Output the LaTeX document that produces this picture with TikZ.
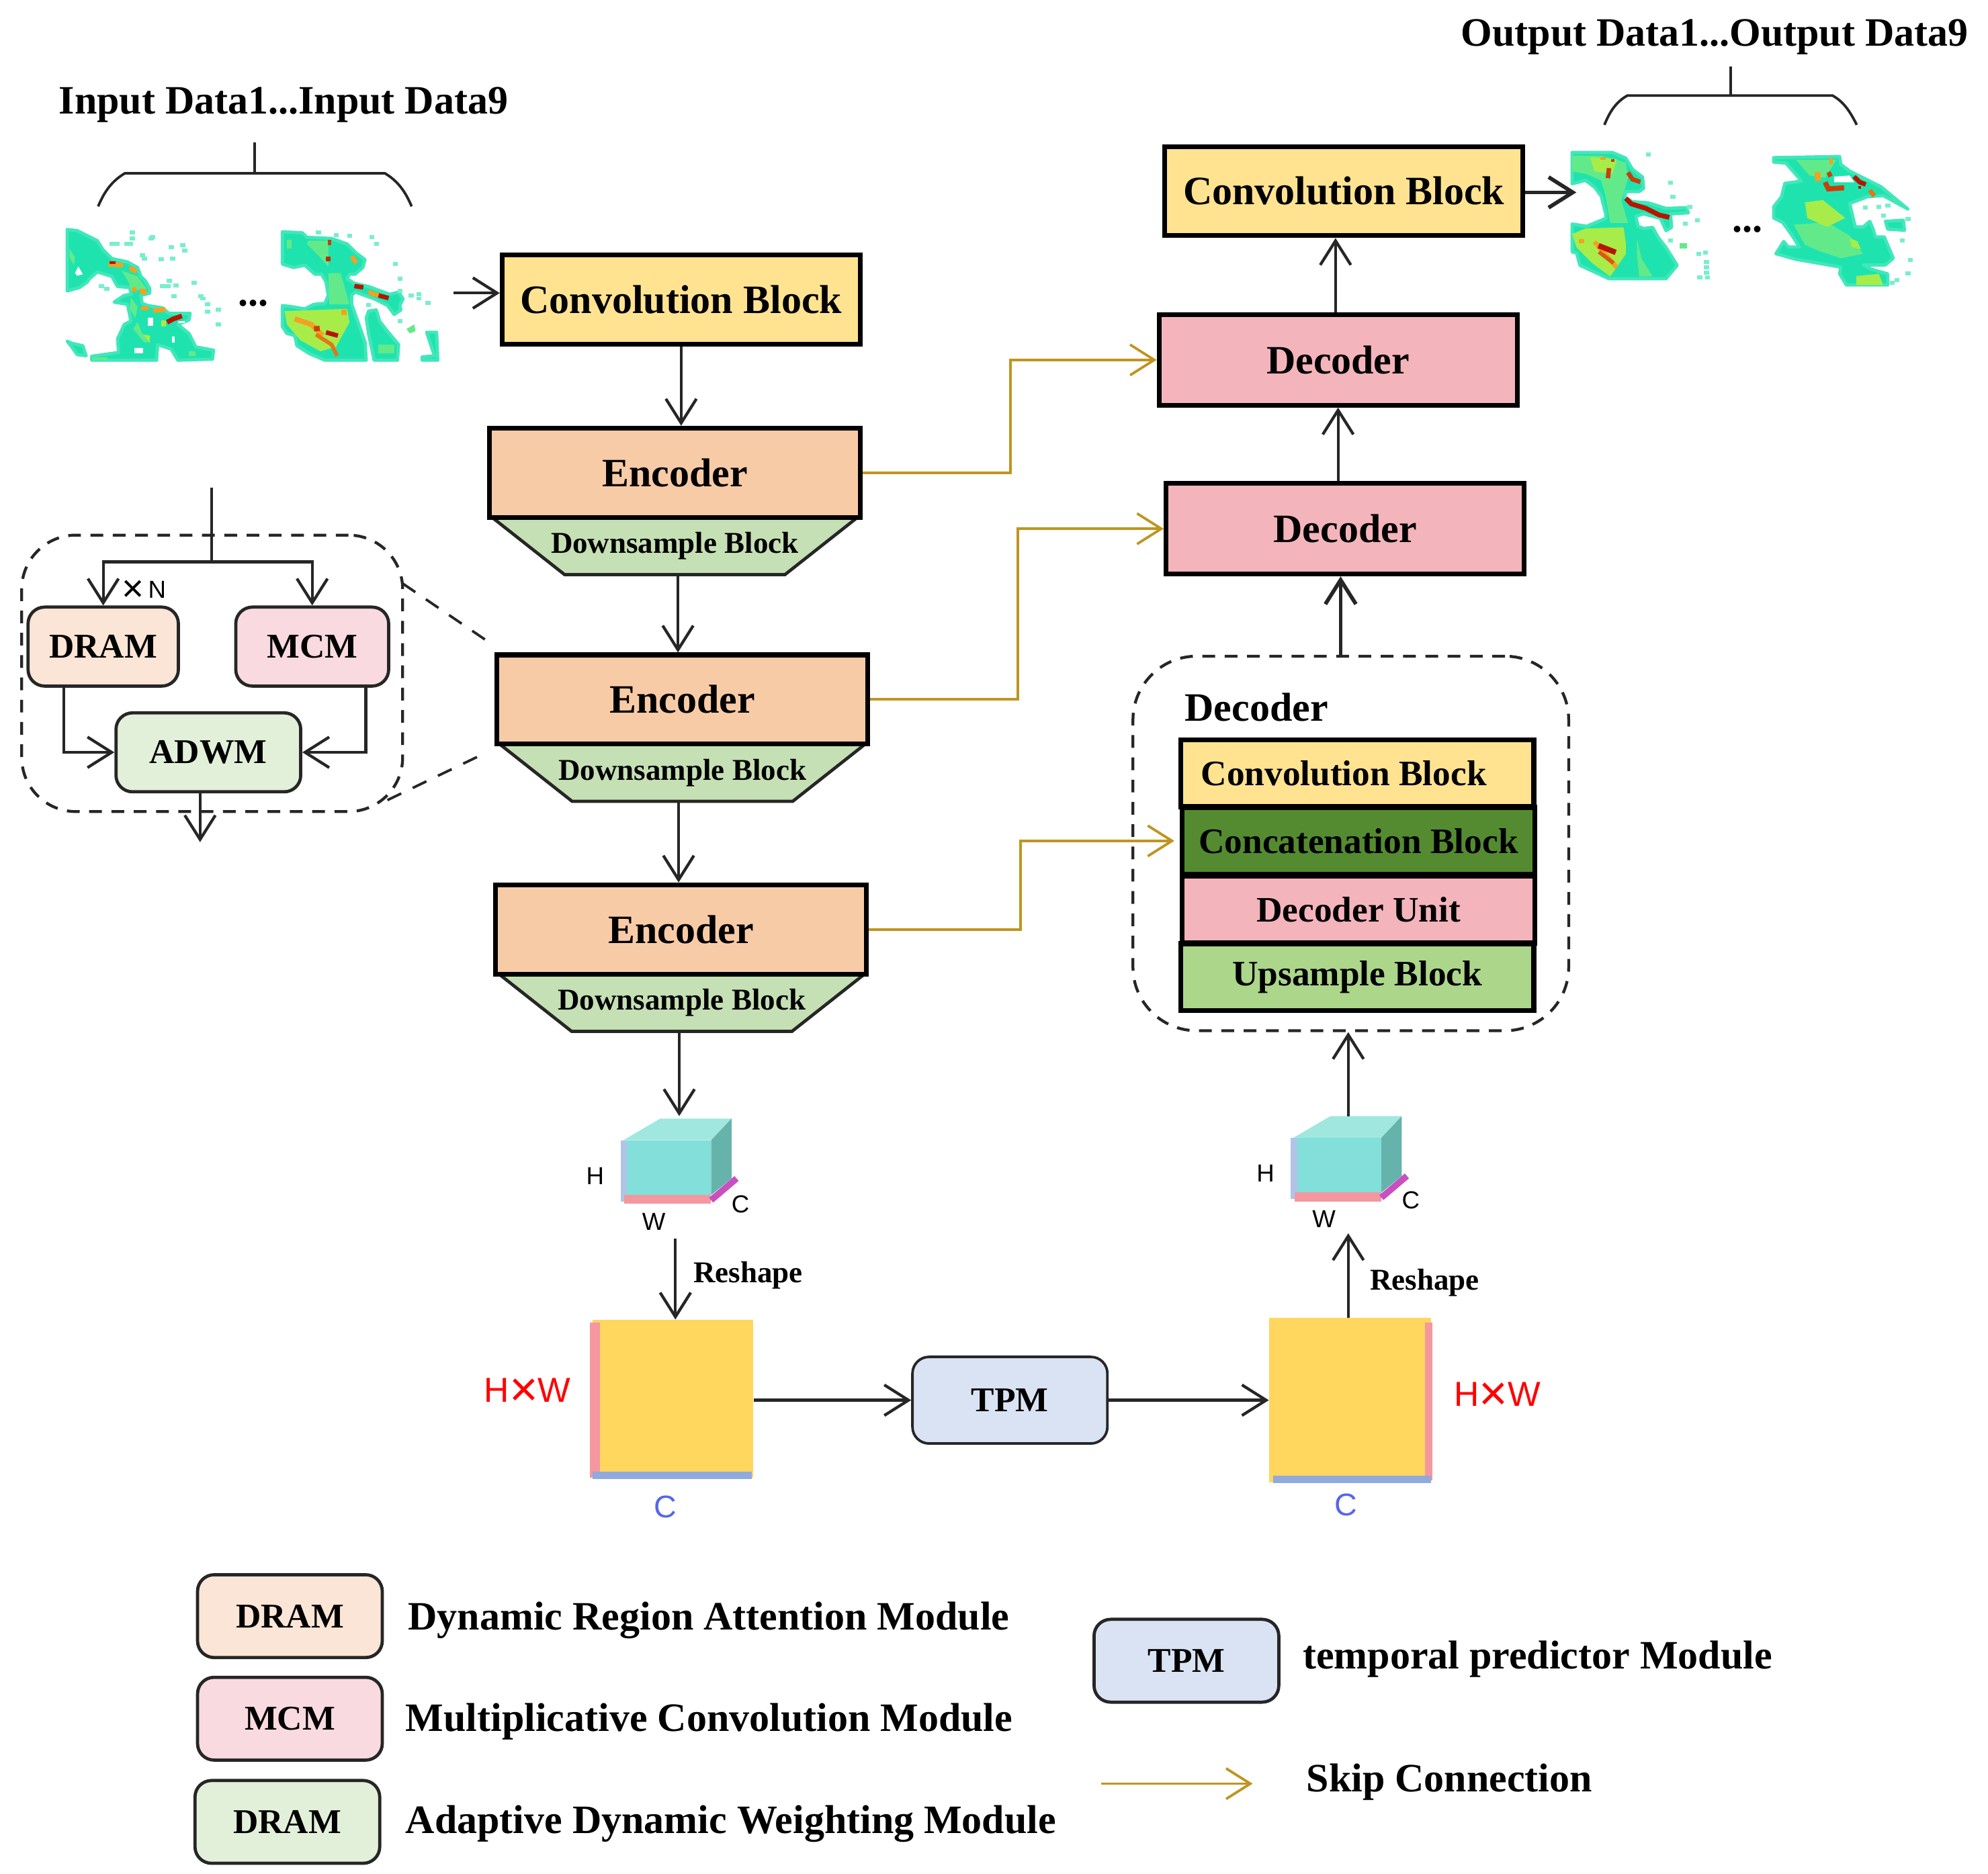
\documentclass[tikz,border=0pt]{standalone}
\usepackage{fontspec}
\setmainfont{Liberation Serif}
\newfontfamily\labelfont{Liberation Sans}
\usetikzlibrary{arrows.meta}
\definecolor{convfill}{HTML}{FFE391}
\definecolor{encfill}{HTML}{F8CBA7}
\definecolor{downfill}{HTML}{C5E0B4}
\definecolor{decfill}{HTML}{F4B4BC}
\definecolor{concatfill}{HTML}{548B30}
\definecolor{upfill}{HTML}{ACD68A}
\definecolor{dramfill}{HTML}{FBE5D6}
\definecolor{mcmfill}{HTML}{F9DAE0}
\definecolor{adwmfill}{HTML}{E2F0D9}
\definecolor{tpmfill}{HTML}{DAE3F3}
\definecolor{skipline}{HTML}{BF9520}
\definecolor{edgeline}{HTML}{262626}
\definecolor{latentfill}{HTML}{FFD65E}
\definecolor{stripred}{HTML}{F4979F}
\definecolor{stripblue}{HTML}{8FAADC}
\definecolor{cubefront}{HTML}{82DFD9}
\definecolor{cubetop}{HTML}{A0E8DF}
\definecolor{cubeside}{HTML}{66B3AB}
\definecolor{cubeedge}{HTML}{C850C0}
\definecolor{heatbase}{HTML}{1FE3AE}
\definecolor{heatsoft}{HTML}{62EA8A}
\definecolor{heatmid}{HTML}{A8EC4A}
\definecolor{heatwarm}{HTML}{F5A020}
\definecolor{heathot}{HTML}{B81400}
\tikzstyle{ConvBlock}=[minimum width=5.62cm, minimum height=1.4cm, inner sep=0, fill=convfill, line width=0.075cm, draw=black, shape=rectangle, font=\bfseries\fontsize{18}{20}\selectfont]
\tikzstyle{EncoderBlock}=[minimum width=5.82cm, minimum height=1.4cm, inner sep=0, fill=encfill, line width=0.075cm, draw=black, shape=rectangle, font=\bfseries\fontsize{18}{20}\selectfont]
\tikzstyle{DecoderBlock}=[minimum width=5.62cm, minimum height=1.42cm, inner sep=0, fill=decfill, line width=0.075cm, draw=black, shape=rectangle, font=\bfseries\fontsize{18}{20}\selectfont]
\tikzstyle{DownBlock}=[minimum width=5.84cm, minimum height=1cm, inner sep=0, shape=rectangle, font=\bfseries\fontsize{13.5}{15}\selectfont, path picture={\draw [fill=downfill, line width=0.05cm, draw=edgeline] ([xshift=0.05cm, yshift=-0.05cm]path picture bounding box.north west) -- ([xshift=-0.05cm, yshift=-0.05cm]path picture bounding box.north east) -- ([xshift=-1.19cm, yshift=0.05cm]path picture bounding box.south east) -- ([xshift=1.19cm, yshift=0.05cm]path picture bounding box.south west) -- cycle;}]
\tikzstyle{StackBlock}=[minimum width=5.54cm, minimum height=1.05cm, inner sep=0, line width=0.08cm, draw=black, shape=rectangle, font=\bfseries\fontsize{16}{18}\selectfont]
\tikzstyle{Module}=[minimum height=1.24cm, inner sep=0, rounded corners=0.26cm, line width=0.05cm, draw=edgeline, shape=rectangle, font=\bfseries\fontsize{15.5}{17}\selectfont]
\tikzstyle{LegendBox}=[style=Module, minimum width=2.9cm, minimum height=1.3cm]
\tikzstyle{DashedBox}=[line width=0.045cm, draw=edgeline, dash pattern=on 0.2cm off 0.15cm, shape=rectangle, inner sep=0]
\tikzstyle{Latent}=[minimum width=2.52cm, inner sep=0, fill=latentfill, shape=rectangle]
\tikzstyle{Title}=[font=\bfseries\fontsize{18}{20}\selectfont, inner sep=0]
\tikzstyle{SmallTitle}=[font=\bfseries\fontsize{13.5}{15}\selectfont, inner sep=0]
\tikzstyle{CubeLabel}=[font=\labelfont\fontsize{11}{13}\selectfont, inner sep=0]
\tikzstyle{SizeLabel}=[font=\labelfont\fontsize{15.5}{17}\selectfont, inner sep=0]
\tikzstyle{HeatMap}=[x=0.003514cm, y=-0.003514cm]
\tikzstyle{HeatBlob}=[fill=heatbase, draw=heatbase!85!white, line width=0.05cm, line join=round]
\tikzstyle{HeatSpeck}=[fill=heatbase!60!white]
\tikzstyle{arrow}=[->, line width=0.045cm, draw=edgeline]
\tikzstyle{skiparrow}=[->, line width=0.04cm, draw=skipline]
\tikzstyle{plain}=[line width=0.045cm, draw=edgeline]
\tikzstyle{zoomline}=[line width=0.04cm, draw=edgeline, dash pattern=on 0.24cm off 0.2cm]
\tikzstyle{brace}=[line width=0.04cm, draw=edgeline]
\pgfdeclarelayer{nodelayer}
\pgfdeclarelayer{edgelayer}
\pgfsetlayers{nodelayer, main, edgelayer}
\begin{document}
\begin{tikzpicture}[x=0.02cm, y=-0.02cm, >={Straight Barb[length=0.38cm, width=0.48cm]}]
	\useasboundingbox (0, 0) rectangle (1560, 1470.4);
	\begin{pgfonlayer}{nodelayer}
		% heat maps, traced
		\begin{scope}[shift={(50.08, 179.25)}, style=HeatMap]
			\path [style=HeatBlob] (15,5) -- (60,10) -- (100,30) -- (150,55) -- (175,95) -- (215,135) -- (285,150) -- (330,175) -- (345,215) -- (365,235) -- (385,270) -- (385,290) -- (345,300) -- (350,335) -- (375,345) -- (440,355) -- (470,380) -- (565,380) -- (560,410) -- (510,430) -- (560,470) -- (590,530) -- (670,545) -- (665,585) -- (510,590) -- (480,540) -- (420,520) -- (415,590) -- (125,590) -- (125,572) -- (245,555) -- (240,495) -- (270,430) -- (300,415) -- (285,340) -- (225,330) -- (270,300) -- (300,295) -- (295,265) -- (240,260) -- (215,215) -- (150,195) -- (115,225) -- (105,240) -- (70,265) -- (15,280) -- cycle;
			\path [style=HeatBlob] (15,505) -- (40,515) -- (85,525) -- (100,570) -- (60,565) -- (35,530) -- cycle;
			\fill [white] (50,200) -- (65,170) -- (85,205) -- (60,212) -- cycle;
			\fill [white] (375,400) rectangle (400,435);
			\fill [white] (315,535) rectangle (355,560);
			\fill [white] (510,415) rectangle (540,425);
			\fill [white] (485,485) rectangle (497,510);
			\foreach \p/\q in {205/60, 225/60, 270/60, 285/60, 295/10, 295/35, 155/250, 180/260, 430/250, 455/250, 470/75, 380/35, 385/30, 475/125, 480/295, 570/235, 600/295, 610/305, 630/365, 520/65, 530/90, 340/110, 350/125, 425/130, 460/225, 490/245, 630/330, 680/355, 680/420}
				\fill [style=HeatSpeck] (\p, \q) rectangle ++(24, 18);
			\fill [heatsoft] (25,90) -- (50,130) -- (45,165) -- (25,130) -- cycle;
			\fill [heatsoft] (260,190) -- (330,215) -- (370,270) -- (300,280) -- (290,240) -- cycle;
			\fill [heatsoft] (300,310) -- (330,350) -- (320,400) -- (295,360) -- cycle;
			\fill [heatsoft] (330,420) -- (350,470) -- (390,510) -- (360,510) -- (310,450) -- cycle;
			\fill [heatmid] (355,475) -- (385,480) -- (385,510) -- cycle;
			\fill [heatsoft] (560,550) rectangle (590,570);
			\fill [heatsoft] (130,578) rectangle (195,590);
			\draw [heatwarm, line width=0.075cm] (200,160) -- (265,165);
			\draw [heathot, line width=0.045cm] (205,153) -- (230,153);
			\draw [heatwarm, line width=0.07cm] (295,175) -- (325,195);
			\draw [heatwarm, line width=0.07cm] (305,272) -- (325,275);
			\draw [heatwarm, line width=0.08cm] (340,280) -- (370,285);
			\draw [heatwarm, line width=0.07cm] (345,358) -- (378,358);
			\draw [heatwarm, line width=0.07cm] (400,368) -- (455,362);
			\fill [heatmid] (435,412) rectangle (458,438);
			\draw [heathot, line width=0.075cm] (462,420) -- (490,405) -- (528,392);
		\end{scope}
		\begin{scope}[shift={(219.85, 179.25)}, style=HeatMap]
			\path [style=HeatBlob] (10,15) -- (100,20) -- (120,40) -- (230,45) -- (300,70) -- (340,110) -- (380,140) -- (370,175) -- (335,205) -- (310,205) -- (300,225) -- (330,245) -- (395,260) -- (490,295) -- (530,285) -- (550,315) -- (535,345) -- (540,365) -- (510,385) -- (480,345) -- (420,315) -- (335,285) -- (320,300) -- (320,340) -- (345,410) -- (380,510) -- (385,590) -- (200,590) -- (130,560) -- (75,525) -- (65,480) -- (30,470) -- (10,440) -- (10,345) -- (50,350) -- (110,360) -- (150,340) -- (200,335) -- (215,300) -- (205,240) -- (185,205) -- (155,205) -- (110,165) -- (60,175) -- (10,160) -- cycle;
			\path [style=HeatBlob] (395,370) -- (430,365) -- (445,415) -- (480,460) -- (530,520) -- (525,590) -- (420,590) -- (395,470) -- (385,400) -- cycle;
			\path [style=HeatBlob] (655,465) -- (700,465) -- (705,590) -- (635,590) -- (635,575) -- (690,570) -- cycle;
			\fill [heatsoft] (565,450) -- (600,430) -- (605,460) -- (580,470) -- cycle;
			\foreach \p/\q in {505/150, 525/215, 525/270, 575/290, 610/285, 650/325, 525/405, 400/30, 160/8, 300/25, 420/60, 385/335, 240/20, 610/305}
				\fill [style=HeatSpeck] (\p, \q) rectangle ++(22, 18);
			\fill [heatsoft] (125,55) -- (215,55) -- (215,170) -- (170,120) -- (120,70) -- cycle;
			\fill [heatsoft] (215,200) -- (270,200) -- (310,340) -- (220,340) -- cycle;
			\fill [heatmid] (20,370) -- (300,360) -- (310,420) -- (250,530) -- (180,550) -- (90,500) -- (30,430) -- cycle;
			\fill [heatsoft] (30,50) rectangle (50,90);
			\fill [heatsoft] (440,520) rectangle (510,560);
			\draw [heatwarm, line width=0.08cm] (65,405) -- (140,430) -- (190,480);
			\fill [heatwarm] (272,365) rectangle (298,388);
			\fill [heathot!85!heatwarm] (203,125) rectangle (225,147);
			\fill [heathot!70!heatwarm] (213,52) rectangle (228,75);
			\draw [heatwarm, line width=0.07cm] (320,125) -- (340,155);
			\draw [heathot, line width=0.07cm] (332,258) -- (372,264);
			\draw [heatwarm, line width=0.07cm] (395,285) -- (440,300);
			\draw [heathot, line width=0.07cm] (440,300) -- (485,312);
			\draw [heathot!70!heatwarm, line width=0.09cm] (163,437) -- (165,460);
			\draw [heathot, line width=0.07cm] (205,465) -- (258,480);
			\draw [heatwarm!70!heathot, line width=0.06cm] (160,475) -- (230,520) -- (255,570);
		\end{scope}
		\begin{scope}[shift={(1233.65, 117.04)}, style=HeatMap]
			\path [style=HeatBlob] (0,15) -- (180,15) -- (240,40) -- (270,90) -- (315,125) -- (320,175) -- (300,190) -- (240,190) -- (235,215) -- (270,235) -- (340,240) -- (420,265) -- (510,262) -- (520,285) -- (440,290) -- (445,350) -- (420,365) -- (395,310) -- (320,290) -- (285,300) -- (295,345) -- (320,355) -- (360,350) -- (385,395) -- (420,440) -- (470,520) -- (420,580) -- (165,580) -- (100,550) -- (35,520) -- (20,465) -- (0,460) -- (0,335) -- (65,345) -- (150,310) -- (150,290) -- (130,210) -- (100,170) -- (60,140) -- (0,155) -- cycle;
			\foreach \p/\q in {440/205, 495/325, 555/460, 585/455, 590/495, 590/520, 590/545, 595/565, 560/565, 430/140, 515/250, 550/310, 430/400, 330/15}
				\fill [style=HeatSpeck] (\p, \q) rectangle ++(22, 18);
			\fill [heatsoft] (480,420) rectangle (515,445);
			\fill [heatsoft] (0,30) -- (130,30) -- (240,60) -- (250,130) -- (220,230) -- (250,330) -- (170,330) -- (150,210) -- (130,140) -- (60,110) -- (0,100) -- cycle;
			\fill [heatmid] (0,380) -- (60,355) -- (230,350) -- (240,420) -- (240,470) -- (170,570) -- (90,510) -- (20,440) -- cycle;
			\fill [heatmid] (80,35) -- (200,45) -- (180,110) -- (100,100) -- cycle;
			\fill [heatsoft] (290,400) -- (310,490) -- (360,570) -- (300,570) -- (290,470) -- cycle;
			\fill [heatwarm] (30,403) rectangle (55,420);
			\draw [heatwarm, line width=0.07cm] (100,415) -- (200,530);
			\fill [heatwarm] (125,35) rectangle (150,47);
			\fill [heathot!70!heatwarm] (173,45) rectangle (190,58);
			\draw [heathot!70!heatwarm, line width=0.07cm] (165,85) -- (160,130);
			\draw [heathot!70!heatwarm, line width=0.07cm] (250,105) -- (270,135) -- (305,147);
			\draw [heathot, line width=0.075cm] (240,220) -- (265,245) -- (330,265) -- (390,295) -- (435,305);
			\draw [heathot, line width=0.085cm] (118,432) -- (195,462);
			\draw [heatwarm!50!heathot, line width=0.06cm] (120,460) -- (185,510);
		\end{scope}
		\begin{scope}[shift={(1391.8, 120.2)}, style=HeatMap]
			\path [style=HeatBlob] (0,20) -- (295,15) -- (300,50) -- (340,80) -- (400,110) -- (480,150) -- (600,250) -- (490,190) -- (420,195) -- (340,225) -- (365,330) -- (400,330) -- (430,305) -- (445,340) -- (455,375) -- (495,375) -- (535,470) -- (500,500) -- (400,500) -- (440,520) -- (510,540) -- (510,590) -- (325,590) -- (295,540) -- (300,510) -- (100,475) -- (10,450) -- (45,395) -- (65,420) -- (115,420) -- (80,365) -- (40,310) -- (0,290) -- (0,240) -- (35,195) -- (50,135) -- (125,125) -- (55,45) -- (0,40) -- cycle;
			\fill [white] (270,105) -- (340,100) -- (360,130) -- (270,130) -- cycle;
			\path [style=HeatBlob] (500,305) -- (580,300) -- (585,345) -- (510,340) -- cycle;
			\foreach \p/\q in {565/382, 600/468, 590/530, 520/570, 540/560, 400/235, 460/230, 500/225, 480/270, 590/285}
				\fill [style=HeatSpeck] (\p, \q) rectangle ++(22, 18);
			\fill [heatsoft] (100,30) -- (280,30) -- (230,110) -- (160,100) -- cycle;
			\fill [heatsoft] (90,320) -- (240,310) -- (340,370) -- (400,450) -- (300,470) -- (210,440) -- (140,410) -- cycle;
			\fill [heatmid] (140,220) -- (220,210) -- (320,290) -- (240,330) -- (150,290) -- cycle;
			\fill [heatmid] (340,380) -- (375,395) -- (390,430) -- (350,420) -- cycle;
			\fill [heatmid] (370,550) -- (470,540) -- (490,590) -- (370,590) -- cycle;
			\draw [heatwarm, line width=0.09cm] (195,85) -- (200,125);
			\draw [heatwarm, line width=0.05cm] (255,20) -- (258,50);
			\draw [heathot!70!heatwarm, line width=0.08cm] (230,130) -- (245,160) -- (315,155);
			\draw [heathot!70!heatwarm, line width=0.07cm] (245,85) -- (255,105);
			\draw [heathot, line width=0.07cm] (360,105) -- (385,130) -- (412,140);
			\fill [heathot] (378,148) rectangle (392,160);
			\draw [heatwarm!70!heathot, line width=0.07cm] (430,165) -- (450,192);
		\end{scope}
		% titles and dots
		\node [style=Title] (inputtitle) at (222.5, 82) {Input Data1...Input Data9};
		\node [style=Title] (outputtitle) at (1345.5, 29) {Output Data1...Output Data9};
		\node [style=Title] (inputdots) at (199, 238) {...};
		\node [style=Title] (outputdots) at (1371, 180) {...};
		% encoder side
		\node [style=ConvBlock] (convin) at (534.5, 235) {Convolution Block};
		\node [style=DownBlock] (downa) at (529.5, 428.5) {Downsample Block};
		\node [style=EncoderBlock] (encodera) at (529.5, 371) {Encoder};
		\node [style=DownBlock] (downb) at (535.5, 606.5) {Downsample Block};
		\node [style=EncoderBlock] (encoderb) at (535.5, 549) {Encoder};
		\node [style=DownBlock] (downc) at (535, 787) {Downsample Block};
		\node [style=EncoderBlock] (encoderc) at (534.5, 729.5) {Encoder};
		% decoder side
		\node [style=ConvBlock] (convout) at (1054.5, 150) {Convolution Block};
		\node [style=DecoderBlock] (decodera) at (1050, 282.5) {Decoder};
		\node [style=DecoderBlock] (decoderb) at (1055.5, 415) {Decoder};
		\node [style=DashedBox, rounded corners=1cm, minimum width=6.84cm, minimum height=5.88cm] (decoderframe) at (1060, 662) {};
		\node [style=Title] (decodertitle) at (986, 555) {Decoder};
		\node [style=StackBlock, fill=convfill, label={[font=\bfseries\fontsize{16}{18}\selectfont, xshift=-0.21cm]center:Convolution Block}] (stackconv) at (1065, 607) {};
		\node [style=StackBlock, fill=concatfill] (stackconcat) at (1066, 660) {Concatenation Block};
		\node [style=StackBlock, fill=decfill] (stackunit) at (1066, 714) {Decoder Unit};
		\node [style=StackBlock, fill=upfill] (stackup) at (1065, 767) {Upsample Block};
		% module detail
		\node [style=DashedBox, rounded corners=0.85cm, minimum width=5.98cm, minimum height=4.34cm] (moduleframe) at (166.5, 528.5) {};
		\node [style=Module, fill=dramfill, minimum width=2.36cm] (dram) at (81, 507.5) {DRAM};
		\node [style=Module, fill=mcmfill, minimum width=2.4cm] (mcm) at (245, 507.5) {MCM};
		\node [style=Module, fill=adwmfill, minimum width=2.9cm] (adwm) at (163.5, 590.5) {ADWM};
		\node [font=\labelfont\fontsize{11}{13}\selectfont, inner sep=0] (repeatlabel) at (113, 464) {\raisebox{-1.6pt}{\fontsize{17}{17}\selectfont ×}\,N};
		% cubes
		\begin{scope}[shift={(0, 0)}]
			\fill [cubetop] (489, 895) -- (518, 878) -- (574, 878) -- (558, 895) -- cycle;
			\fill [cubeside] (558, 895) -- (574, 878) -- (574, 925) -- (558, 938) -- cycle;
			\fill [cubefront] (489, 895) rectangle (558, 938);
			\fill [stripblue!70!white] (487, 895) rectangle (492, 943);
			\fill [stripred] (490, 938) rectangle (558, 945);
			\draw [cubeedge, line width=0.1cm] (558, 942) -- (578, 925);
		\end{scope}
		\begin{scope}[shift={(526, -2)}]
			\fill [cubetop] (489, 895) -- (518, 878) -- (574, 878) -- (558, 895) -- cycle;
			\fill [cubeside] (558, 895) -- (574, 878) -- (574, 925) -- (558, 938) -- cycle;
			\fill [cubefront] (489, 895) rectangle (558, 938);
			\fill [stripblue!70!white] (487, 895) rectangle (492, 943);
			\fill [stripred] (490, 938) rectangle (558, 945);
			\draw [cubeedge, line width=0.1cm] (558, 942) -- (578, 925);
		\end{scope}
		\node [style=CubeLabel] (cubeah) at (467, 923) {H};
		\node [style=CubeLabel] (cubeaw) at (513, 959) {W};
		\node [style=CubeLabel] (cubeac) at (581, 945) {C};
		\node [style=CubeLabel] (cubebh) at (993, 921) {H};
		\node [style=CubeLabel] (cubebw) at (1039, 957) {W};
		\node [style=CubeLabel] (cubebc) at (1107, 942) {C};
		% latent blocks
		\node [style=Latent, minimum height=2.48cm] (latenta) at (528, 1098) {};
		\fill [stripred] (463, 1038) rectangle (471, 1160);
		\fill [stripblue] (465, 1155) rectangle (590, 1161);
		\node [style=Latent, minimum width=2.54cm, minimum height=2.58cm] (latentb) at (1059.5, 1099) {};
		\fill [stripred] (1118, 1038) rectangle (1124, 1162);
		\fill [stripblue] (999, 1158) rectangle (1123, 1164);
		\node [style=SizeLabel, text=red] (sizea) at (414, 1093) {H\raisebox{-1.8pt}{\fontsize{22}{22}\selectfont ×}W};
		\node [style=SizeLabel, text=red] (sizeb) at (1175, 1096) {H\raisebox{-1.8pt}{\fontsize{22}{22}\selectfont ×}W};
		\node [style=SizeLabel, text=stripblue!60!blue, font=\labelfont\fontsize{14}{16}\selectfont] (channela) at (522, 1183) {C};
		\node [style=SizeLabel, text=stripblue!60!blue, font=\labelfont\fontsize{14}{16}\selectfont] (channelb) at (1056, 1181) {C};
		\node [style=Module, fill=tpmfill, minimum width=3.06cm, minimum height=1.36cm, line width=0.04cm] (tpm) at (792.5, 1099) {TPM};
		\node [style=SmallTitle] (reshapea) at (587, 1001) {Reshape};
		\node [style=SmallTitle] (reshapeb) at (1118, 1007) {Reshape};
		% legend
		\node [style=LegendBox, fill=dramfill] (legenddram) at (227.5, 1268.5) {DRAM};
		\node [style=LegendBox, fill=mcmfill] (legendmcm) at (227.5, 1349) {MCM};
		\node [style=LegendBox, fill=adwmfill] (legendadwm) at (225.5, 1430) {DRAM};
		\node [style=LegendBox, fill=tpmfill] (legendtpm) at (931, 1303.5) {TPM};
		\node [style=Title, anchor=west] (textdram) at (320, 1272) {Dynamic Region Attention Module};
		\node [style=Title, anchor=west] (textmcm) at (318, 1351) {Multiplicative Convolution Module};
		\node [style=Title, anchor=west] (textadwm) at (318, 1431.5) {Adaptive Dynamic Weighting Module};
		\node [style=Title, anchor=west] (texttpm) at (1022, 1302) {temporal predictor Module};
		\node [style=Title, anchor=west] (textskip) at (1025, 1398.5) {Skip Connection};
		% free ends of connectors
		\coordinate (inputout) at (356, 230);
		\coordinate (moduletop) at (166, 383);
		\coordinate (modulesplit) at (166, 441);
		\coordinate (dramout) at (50, 538);
		\coordinate (mcmout) at (287, 538);
		\coordinate (adwmout) at (157, 621);
		\coordinate (moduleend) at (157, 661);
		\coordinate (zoomtop) at (316, 458);
		\coordinate (zoomtopend) at (388, 507);
		\coordinate (zoombottom) at (304, 628);
		\coordinate (zoombottomend) at (383, 590);
		\coordinate (cubeain) at (533, 876);
		\coordinate (cubeaout) at (530, 972);
		\coordinate (cubebin) at (1058, 968);
		\coordinate (cubebout) at (1058, 876);
		\coordinate (outputin) at (1237, 151);
		\coordinate (skipstart) at (864, 1400);
		\coordinate (skipend) at (983, 1400);
		\coordinate (inputstem) at (200, 112);
		\coordinate (inputjoin) at (200, 136);
		\coordinate (outputstem) at (1358, 52);
		\coordinate (outputjoin) at (1358, 75);
	\end{pgfonlayer}
	\begin{pgfonlayer}{edgelayer}
		\draw [style=brace] (77, 162) .. controls (82, 150) and (88, 142) .. (98, 136) -- (302, 136) .. controls (312, 142) and (318, 150) .. (323, 162);
		\draw [style=brace] (inputstem) to (inputjoin);
		\draw [style=brace] (1259, 98) .. controls (1263, 88) and (1268, 80) .. (1277, 75) -- (1438, 75) .. controls (1447, 80) and (1452, 88) .. (1457, 98);
		\draw [style=brace] (outputstem) to (outputjoin);
		\draw [style=arrow] (inputout) to (inputout -| convin.west);
		\draw [style=arrow] (convin.south) to (convin.south |- encodera.north);
		\draw [style=arrow] ([xshift=0.05cm, yshift=0.06cm]downa.south) to ([xshift=0.05cm]downa.south |- encoderb.north);
		\draw [style=arrow] ([xshift=-0.06cm, yshift=0.06cm]downb.south) to ([xshift=-0.06cm]downb.south |- encoderc.north);
		\draw [style=arrow] ([xshift=-0.04cm, yshift=0.06cm]downc.south) to ([xshift=-0.04cm]downc.south |- cubeain);
		\draw [style=arrow] (cubeaout) to (cubeaout |- latenta.north);
		\draw [style=arrow] (latenta.east |- tpm.west) to (tpm.west);
		\draw [style=arrow] (tpm.east) to (latentb.west);
		\draw [style=arrow] (cubebin |- latentb.north) to (cubebin);
		\draw [style=arrow] (cubebout) to (cubebout |- decoderframe.south);
		\draw [style=arrow, line width=0.06cm] ([xshift=-0.16cm]decoderframe.north) to ([xshift=-0.16cm]decoderframe.north |- decoderb.south);
		\draw [style=arrow] ([xshift=-0.04cm]decodera.north) to ([xshift=-0.04cm]decodera.north |- convout.south);
		\draw [style=arrow] ([xshift=-0.11cm]decoderb.north) to ([xshift=-0.11cm]decoderb.north |- decodera.south);
		\draw [style=arrow, line width=0.06cm] (convout.east |- outputin) to (outputin);
		\draw [style=skiparrow] (encodera.east) -- ++(116, 0) |- (decodera.west);
		\draw [style=skiparrow] (encoderb.east) -- ++(116, 0) |- (decoderb.west);
		\draw [style=skiparrow] (encoderc.east) -- ++(119, 0) |- ([xshift=-0.08cm]stackconcat.west);
		\draw [style=skiparrow] (skipstart) to (skipend);
		\draw [style=plain] (moduletop) to (modulesplit);
		\draw [style=arrow] (modulesplit) -| (dram.north);
		\draw [style=arrow] (modulesplit) -| (mcm.north);
		\draw [style=arrow] (dramout) |- (adwm.west);
		\draw [style=arrow] (mcmout) |- (adwm.east);
		\draw [style=arrow] (adwmout) to (moduleend);
		\draw [style=zoomline] (zoomtop) to (zoomtopend);
		\draw [style=zoomline] (zoombottom) to (zoombottomend);
	\end{pgfonlayer}
\end{tikzpicture}
\end{document}
